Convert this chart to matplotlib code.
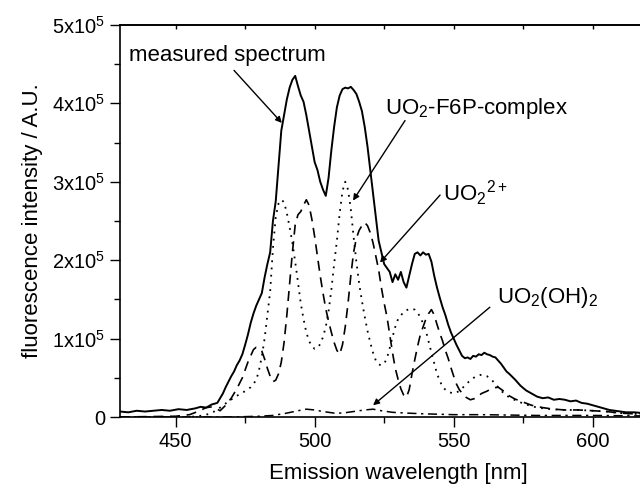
import numpy as np
import matplotlib
matplotlib.use('Agg')
import matplotlib.pyplot as plt
from matplotlib.ticker import MultipleLocator

plt.rcParams['font.family'] = ['Liberation Sans', 'DejaVu Sans']
plt.rcParams['mathtext.default'] = 'regular'

# measured spectrum (wavelength nm, intensity in 1e5 A.U.)
meas_x = [430, 433, 436, 439, 442, 445, 448, 451, 454, 457, 459, 461, 463, 465, 466, 467, 468, 469, 470,
          471, 472, 473, 474, 475, 476, 477, 478, 479, 480, 481, 482, 483, 484, 485, 486, 487, 488, 489,
          490, 491, 492, 493, 494, 495, 496, 497, 498, 499, 500, 501, 502, 503, 504, 505, 506, 507, 508,
          509, 510, 511, 512, 513, 514, 515, 516, 517, 518, 519, 520, 521, 522, 523, 524, 525, 526, 527,
          528, 529, 530, 531, 532, 533, 534, 535, 536, 537, 538, 539, 540, 541, 542, 543, 544, 545, 546,
          547, 548, 549, 550, 551, 552, 553, 554, 555, 556, 557, 558, 559, 560, 561, 562, 563, 564, 565,
          566, 567, 568, 569, 570, 572, 574, 576, 578, 580, 582, 584, 586, 588, 590, 592, 594, 596, 598,
          600, 602, 604, 606, 608, 610, 612, 615, 618, 622, 626, 630]
meas_y = [0.07, 0.06, 0.08, 0.07, 0.08, 0.09, 0.08, 0.10, 0.09, 0.11, 0.13, 0.12, 0.16, 0.18, 0.24, 0.30,
          0.38, 0.45, 0.52, 0.58, 0.66, 0.72, 0.80, 0.92, 1.05, 1.20, 1.32, 1.42, 1.50, 1.58, 1.78, 1.95,
          2.10, 2.50, 2.75, 3.20, 3.65, 3.85, 4.05, 4.20, 4.30, 4.35, 4.22, 4.10, 4.02, 3.85, 3.65, 3.45,
          3.25, 3.15, 3.00, 2.90, 2.82, 3.05, 3.40, 3.70, 3.95, 4.10, 4.18, 4.20, 4.19, 4.21, 4.17, 4.12,
          4.02, 3.90, 3.70, 3.45, 3.15, 2.85, 2.55, 2.25, 2.10, 1.95, 1.90, 1.85, 1.72, 1.82, 1.75, 1.85,
          1.72, 1.65, 1.80, 1.95, 2.08, 2.10, 2.06, 2.10, 2.07, 2.08, 1.98, 1.80, 1.65, 1.52, 1.40, 1.30,
          1.18, 1.08, 1.00, 0.92, 0.85, 0.78, 0.75, 0.76, 0.74, 0.78, 0.77, 0.80, 0.79, 0.82, 0.80, 0.79,
          0.77, 0.76, 0.72, 0.68, 0.63, 0.58, 0.55, 0.48, 0.40, 0.34, 0.30, 0.26, 0.24, 0.25, 0.22, 0.23,
          0.22, 0.20, 0.21, 0.18, 0.17, 0.15, 0.13, 0.11, 0.09, 0.08, 0.07, 0.06, 0.06, 0.05, 0.05, 0.05,
          0.05]

# UO2-F6P-complex (dotted)
f6p_x = [430, 455, 460, 463, 466, 469, 472, 475, 477, 479, 480, 481, 482, 483, 484, 485, 486, 487, 488,
         489, 490, 491, 492, 493, 494, 495, 496, 497, 498, 499, 500, 501, 502, 503, 504, 505, 506, 507,
         508, 509, 510, 511, 512, 513, 514, 515, 516, 517, 518, 519, 520, 521, 522, 523, 524, 525, 526,
         527, 528, 529, 530, 532, 534, 536, 538, 540, 542, 544, 546, 548, 550, 552, 554, 556, 558, 560,
         562, 564, 566, 568, 570, 573, 576, 580, 585, 590, 595, 600, 605, 610, 615, 620, 630]
f6p_y = [0.0, 0.0, 0.02, 0.05, 0.12, 0.20, 0.27, 0.33, 0.38, 0.47, 0.60, 0.77, 1.00, 1.30, 1.60, 2.15,
         2.55, 2.72, 2.77, 2.74, 2.60, 2.42, 2.22, 1.98, 1.72, 1.45, 1.25, 1.08, 0.97, 0.90, 0.87, 0.88,
         0.93, 1.02, 1.15, 1.35, 1.62, 1.95, 2.25, 2.60, 2.88, 3.00, 2.90, 2.65, 2.30, 1.98, 1.70, 1.48,
         1.28, 1.10, 0.95, 0.82, 0.72, 0.67, 0.66, 0.68, 0.75, 0.88, 1.02, 1.15, 1.25, 1.34, 1.38, 1.37,
         1.28, 1.10, 0.82, 0.55, 0.38, 0.32, 0.30, 0.33, 0.40, 0.47, 0.52, 0.54, 0.52, 0.46, 0.38, 0.30,
         0.25, 0.20, 0.16, 0.12, 0.10, 0.09, 0.09, 0.08, 0.07, 0.05, 0.04, 0.04, 0.03]

# UO2 2+ (dashed)
uo2_x = [430, 450, 455, 458, 461, 463, 465, 466, 468, 470, 472, 474, 476, 478, 479, 480, 481, 482, 483,
         484, 485, 486, 487, 488, 489, 490, 491, 492, 493, 494, 495, 496, 497, 498, 499, 500, 501, 502,
         503, 504, 505, 506, 507, 508, 509, 510, 511, 512, 513, 514, 515, 516, 517, 518, 519, 520, 521,
         522, 523, 524, 525, 526, 527, 528, 529, 530, 531, 532, 533, 534, 535, 536, 537, 538, 539, 540,
         541, 542, 543, 544, 545, 546, 547, 548, 549, 550, 551, 552, 554, 556, 558, 560, 562, 564, 566,
         568, 570, 572, 575, 578, 582, 586, 590, 595, 600, 605, 610, 615, 620, 630]
uo2_y = [0.0, 0.01, 0.03, 0.07, 0.12, 0.13, 0.10, 0.08, 0.15, 0.24, 0.36, 0.50, 0.70, 0.86, 0.89, 0.88,
         0.84, 0.74, 0.62, 0.52, 0.45, 0.47, 0.55, 0.70, 0.95, 1.30, 1.70, 2.10, 2.45, 2.58, 2.62, 2.70,
         2.77, 2.70, 2.52, 2.30, 2.05, 1.80, 1.58, 1.38, 1.22, 1.08, 0.95, 0.85, 0.80, 0.92, 1.15, 1.45,
         1.80, 2.10, 2.28, 2.38, 2.44, 2.48, 2.44, 2.35, 2.22, 2.05, 1.88, 1.65, 1.45, 1.28, 1.05, 0.82,
         0.62, 0.48, 0.36, 0.28, 0.25, 0.35, 0.55, 0.73, 0.90, 1.05, 1.15, 1.25, 1.32, 1.37, 1.30, 1.18,
         1.07, 0.97, 0.85, 0.75, 0.63, 0.52, 0.42, 0.35, 0.26, 0.22, 0.24, 0.30, 0.33, 0.37, 0.38, 0.33,
         0.27, 0.23, 0.19, 0.15, 0.12, 0.10, 0.09, 0.09, 0.08, 0.07, 0.05, 0.04, 0.04, 0.03]

# UO2(OH)2 (dash-dot)
oh_x = [430, 470, 480, 485, 490, 494, 497, 500, 503, 507, 510, 514, 518, 521, 524, 528, 533, 540, 550,
        560, 580, 600, 630]
oh_y = [0.0, 0.0, 0.01, 0.02, 0.05, 0.08, 0.10, 0.09, 0.07, 0.05, 0.05, 0.07, 0.09, 0.10, 0.08, 0.06,
        0.05, 0.04, 0.03, 0.03, 0.02, 0.02, 0.01]

ytick_vals = [0, 1, 2, 3, 4, 5]
ytick_labels = ['0', '1x10$^5$', '2x10$^5$', '3x10$^5$', '4x10$^5$', '5x10$^5$']

fig = plt.figure(figsize=(6.4, 4.92), dpi=100)
ax = fig.add_axes([0.1875, 0.1524, 0.869, 0.797])

scale = 1e5
ax.plot(meas_x, np.array(meas_y) * scale, color='black', lw=1.4, ls='-')
ax.plot(f6p_x, np.array(f6p_y) * scale, color='black', lw=1.3, ls=(0, (1, 3)))
ax.plot(uo2_x, np.array(uo2_y) * scale, color='black', lw=1.2, ls=(0, (6, 4)))
ax.plot(oh_x, np.array(oh_y) * scale, color='black', lw=1.1, ls=(0, (6, 3, 1.5, 3)))

ax.set_xlim(430, 630)
ax.set_ylim(0, 5e5)
ax.set_xticks([450, 500, 550, 600])
ax.xaxis.set_minor_locator(MultipleLocator(25))
ax.set_yticks([v * scale for v in ytick_vals])
ax.set_yticklabels(ytick_labels)
ax.yaxis.set_minor_locator(MultipleLocator(0.5e5))

ax.tick_params(which='major', direction='out', length=7, width=1, labelsize=14.5)
ax.tick_params(which='minor', direction='out', length=4, width=1)
for s in ax.spines.values():
    s.set_linewidth(1.2)

top = ax.secondary_xaxis('top')
top.set_xticks(np.arange(450, 626, 25))
top.tick_params(direction='in', length=3, width=1, labeltop=False)
top.spines['top'].set_linewidth(1.2)

ax.set_xlabel('Emission wavelength [nm]', fontsize=16, labelpad=9)
ax.set_ylabel('fluorescence intensity / A.U.', fontsize=16, labelpad=7)

arrow = dict(arrowstyle='-|>', color='black', lw=1, mutation_scale=9, shrinkA=0, shrinkB=0)
ax.annotate('', xy=(488.2, 3.75e5), xytext=(471, 4.42e5), arrowprops=arrow)
ax.annotate('', xy=(513.8, 2.76e5), xytext=(532.5, 3.78e5), arrowprops=arrow)
ax.annotate('', xy=(523.5, 1.97e5), xytext=(545.1, 2.83e5), arrowprops=arrow)
ax.annotate('', xy=(521, 0.15e5), xytext=(563, 1.4e5), arrowprops=arrow)

ax.text(433.2, 4.61e5, 'measured spectrum', fontsize=16, ha='left', va='center')
ax.text(525.3, 3.94e5, 'UO$_2$-F6P-complex', fontsize=16, ha='left', va='center')
ax.text(546.2, 2.85e5, 'UO$_2$$^{2+}$', fontsize=16, ha='left', va='center')
ax.text(565.6, 1.53e5, 'UO$_2$(OH)$_2$', fontsize=16, ha='left', va='center')

fig.savefig('out.png', dpi=100)
